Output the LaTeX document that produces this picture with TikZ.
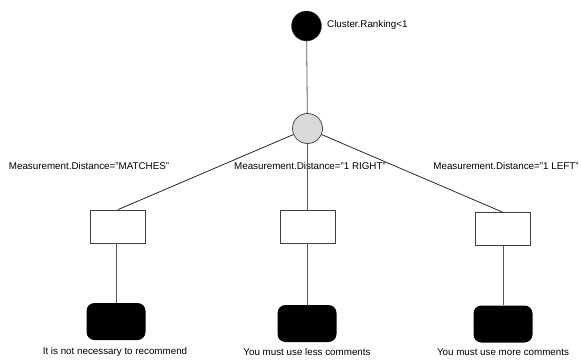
\documentclass[tikz,border=0pt]{standalone}
\usepackage{fontspec}
\setmainfont{Liberation Sans}
\tikzstyle{edge} = [draw, line width=0.8pt, black!65]
\tikzstyle{branch} = [draw, line width=0.8pt, black!85]
\tikzstyle{black vertex}=[circle, fill=black, draw=black!70, minimum size=30pt, inner sep=0pt]
\tikzstyle{grey vertex}=[circle, fill=black!15, draw=black!70, line width=0.8pt, minimum size=30pt, inner sep=0pt]
\tikzstyle{test box}=[rectangle, draw=black!75, line width=0.8pt, fill=white, minimum width=55pt, minimum height=33pt, inner sep=0pt]
\tikzstyle{leaf box}=[rectangle, rounded corners=8pt, fill=black, minimum width=59pt, minimum height=37pt, inner sep=0pt]
\tikzstyle{label text}=[inner sep=0pt, font=\fontsize{9.8}{11}\selectfont]
\def\testNodes{{(118,226.5)/t1}, {(307.5,226.5)/t2}, {(502.5,229)/t3}}
\def\leafNodes{{(116,321.5)/l1}, {(307,323.5)/l2}, {(503,324)/l3}}
\def\branchText{{(89,166)/t1/MATCHES}, {(310,166)/t2/1 RIGHT}, {(506,166)/t3/1 LEFT}}
\def\leafText{{(115,352)/l1/It is not necessary to recommend}, {(307,352)/l2/You must use less comments}, {(503,352)/l3/You must use more comments}}

\begin{document}
\begin{tikzpicture}[x=1pt, y=-1pt]

  \useasboundingbox (0,0) rectangle (581,362);

  \node[black vertex] (root) at (306.5,26) {};
  \node[grey vertex] (split) at (307.5,128.5) {};
  \node[label text, anchor=west] (root-text) at (327,25) {Cluster.Ranking<1};

  \foreach \pos/\name in \testNodes {
    \node[test box] (\name) at \pos {};
    }

  \foreach \pos/\name in \leafNodes {
    \node[leaf box] (\name) at \pos {};
    }

  \foreach \pos/\name/\txt in \branchText {
    \node[label text] (\name-text) at \pos {Measurement.Distance="\txt"};
    }

  \foreach \pos/\name/\txt in \leafText {
    \node[label text] (\name-text) at \pos {\txt};
    }

  \path[edge] (root) -- (split);
  \path[edge] (split) -- (t2);

  \foreach \dest in {t1, t3}
    \path[branch] (split) -- (\dest.north);

  \foreach \source/\sink in {t1/l1, t2/l2, t3/l3}
    \path[edge] (\sink.north |- \source.south) -- (\sink.north);

\end{tikzpicture}
\end{document}
